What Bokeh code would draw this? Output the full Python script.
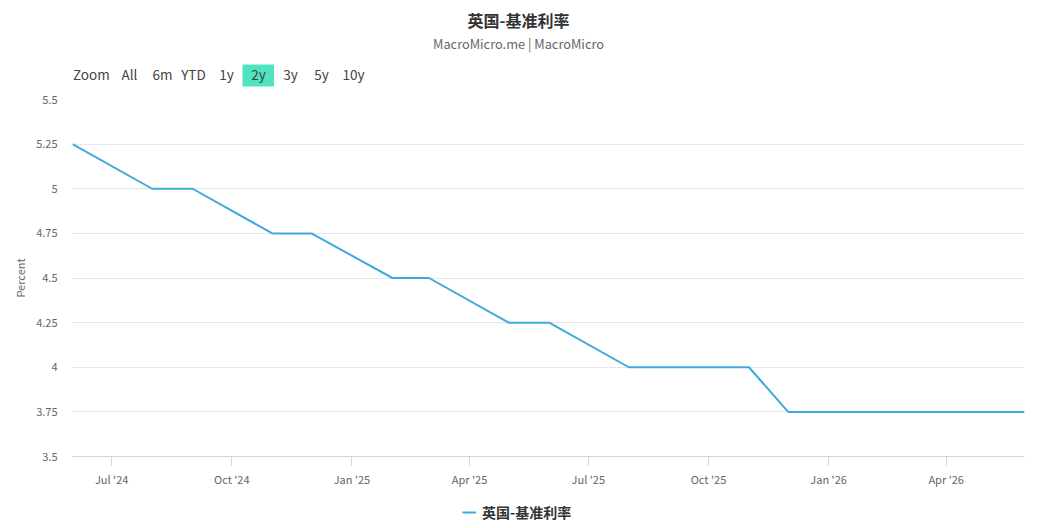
import pandas as pd
from bokeh.plotting import figure
from bokeh.layouts import column
from bokeh.models import (ColumnDataSource, FixedTicker, DatetimeTickFormatter,
                          CustomJSTickFormatter, Legend, LegendItem, Range1d)
from bokeh.core.properties import value
from bokeh.embed import file_html
from bokeh.resources import INLINE

# ---- data ----
dates = ["2024-06-01", "2024-08-01", "2024-09-01", "2024-11-01", "2024-12-01",
         "2025-02-01", "2025-03-01", "2025-05-01", "2025-06-01", "2025-08-01",
         "2025-09-01", "2025-10-01", "2025-11-01", "2025-12-01", "2026-01-01",
         "2026-02-01", "2026-03-01", "2026-04-01", "2026-05-01", "2026-05-31"]
rates = [5.25, 5.00, 5.00, 4.75, 4.75,
         4.50, 4.50, 4.25, 4.25, 4.00,
         4.00, 4.00, 4.00, 3.75, 3.75,
         3.75, 3.75, 3.75, 3.75, 3.75]
x_tick_dates = ["2024-07-01", "2024-10-01", "2025-01-01", "2025-04-01",
                "2025-07-01", "2025-10-01", "2026-01-01", "2026-04-01"]
y_ticks = [3.5, 3.75, 4.0, 4.25, 4.5, 4.75, 5.0, 5.25, 5.5]
buttons = ["All", "6m", "YTD", "1y", "2y", "3y", "5y", "10y"]
selected_button = "2y"
zoom_text = "Zoom"
series_name = "英国-基准利率"
title_text = "英国-基准利率"
subtitle_text = "MacroMicro.me | MacroMicro"

FONT = "Noto Sans CJK SC"
LINE_COLOR = "#3eaadb"
W = 1050
FL, FR = 72, 1024
HEAD_H, MAIN_H, FOOT_H = 90, 406, 32


def bare(fig):
    fig.outline_line_color = None
    fig.xgrid.grid_line_color = None
    fig.ygrid.grid_line_color = None
    fig.background_fill_color = "white"
    fig.border_fill_color = "white"
    return fig


# ---- header: title, subtitle, range selector (x in page pixels) ----
head = bare(figure(width=W, height=HEAD_H, output_backend="svg", toolbar_location=None,
                   x_range=Range1d(FL, FR), y_range=Range1d(HEAD_H, 0),
                   x_axis_location=None, y_axis_location=None,
                   min_border_left=FL, min_border_right=W - FR,
                   min_border_top=0, min_border_bottom=0))
head.text(x=[518], y=[19], text=[title_text], text_font=value(FONT),
          text_font_size="16px", text_font_style="bold", text_color="#333333",
          text_align="center", text_baseline="middle")
head.text(x=[518], y=[43], text=[subtitle_text], text_font=value(FONT),
          text_font_size="12.8px", text_color="#666666",
          text_align="center", text_baseline="middle")
btn_x = [129, 162, 193, 226, 258, 290, 321, 353]
sel = buttons.index(selected_button)
head.quad(left=[btn_x[sel] - 16], right=[btn_x[sel] + 15.5], top=[64], bottom=[86],
          fill_color="#4fe3c1", line_color=None)
head.text(x=[72.5], y=[73.5], text=[zoom_text], text_font=value(FONT),
          text_font_size="13.5px", text_color="#444444",
          text_align="left", text_baseline="middle")
head.text(x=btn_x, y=[73.5] * len(buttons), text=buttons, text_font=value(FONT),
          text_font_size="13.5px", text_color="#444444",
          text_align="center", text_baseline="middle")

# ---- main chart ----
src = ColumnDataSource(dict(x=pd.to_datetime(dates), y=rates))
p = bare(figure(width=W, height=MAIN_H, output_backend="svg", toolbar_location=None,
                x_axis_type="datetime",
                x_range=Range1d(pd.Timestamp("2024-06-01"), pd.Timestamp("2026-05-31")),
                y_range=Range1d(3.5, 5.5),
                min_border_left=FL, min_border_right=W - FR,
                min_border_top=9, min_border_bottom=40))
r = p.line("x", "y", source=src, line_color=LINE_COLOR, line_width=2)

xa = p.xaxis[0]
xa.ticker = FixedTicker(ticks=[pd.Timestamp(d).value / 1e6 for d in x_tick_dates])
fmt = "%b '%y"
xa.formatter = DatetimeTickFormatter(days=fmt, months=fmt, years=fmt, hours=fmt)
xa.axis_line_color = "#d6d6d6"
xa.major_tick_line_color = "#d6d6d6"
xa.major_tick_out = 9
xa.major_tick_in = 0
xa.minor_tick_line_color = None
xa.major_label_text_font = FONT
xa.major_label_text_font_size = "11px"
xa.major_label_text_color = "#666666"
xa.major_label_standoff = 5

ya = p.yaxis[0]
ya.ticker = FixedTicker(ticks=y_ticks)
ya.formatter = CustomJSTickFormatter(code="return tick.toString();")
ya.axis_line_color = None
ya.major_tick_line_color = None
ya.major_tick_out = 0
ya.major_tick_in = 0
ya.minor_tick_line_color = None
ya.minor_tick_out = 0
ya.major_label_text_font = FONT
ya.major_label_text_font_size = "11px"
ya.major_label_text_color = "#666666"
ya.major_label_standoff = 15
ya.axis_label = "Percent"
ya.axis_label_text_font = FONT
ya.axis_label_text_font_size = "11px"
ya.axis_label_text_font_style = "normal"
ya.axis_label_text_color = "#666666"
ya.axis_label_standoff = 5

p.ygrid.grid_line_color = "#e6e6e6"
p.ygrid.ticker = FixedTicker(ticks=y_ticks)

# ---- footer legend ----
foot = bare(figure(width=W, height=FOOT_H, output_backend="svg", toolbar_location=None,
                   x_range=Range1d(0, 1), y_range=Range1d(0, 1),
                   x_axis_location=None, y_axis_location=None,
                   min_border_left=FL, min_border_right=W - FR,
                   min_border_top=0, min_border_bottom=0))
lr = foot.line(x="x", y="y", source=ColumnDataSource(dict(x=[-10, -9], y=[-10, -10])),
               line_color=LINE_COLOR, line_width=2)
legend = Legend(items=[LegendItem(label=series_name, renderers=[lr])],
                location=(462 - FL, 6), orientation="horizontal",
                label_text_font=FONT, label_text_font_size="14px",
                label_text_font_style="bold", label_text_color="#333333",
                glyph_width=14, glyph_height=16, label_standoff=6,
                padding=0, margin=0, border_line_color=None,
                background_fill_alpha=0)
foot.add_layout(legend, "center")

layout = column(head, p, foot, spacing=0)
open("out.html", "w").write(file_html(layout, INLINE))
